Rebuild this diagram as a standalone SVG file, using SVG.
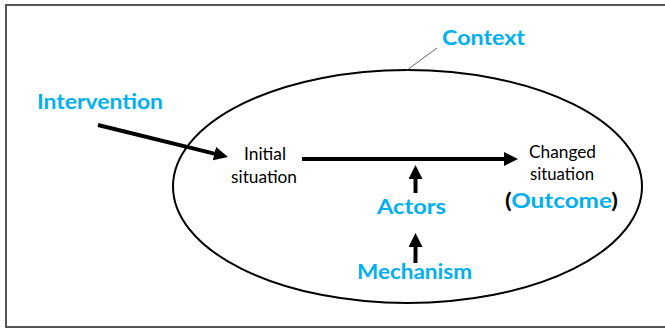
<svg xmlns="http://www.w3.org/2000/svg" width="665" height="329" viewBox="0 0 665 329">
<style>
.blue{fill:#00B0F0;font-family:Lato,"Open Sans",sans-serif;font-weight:bold;font-size:21px}
.blk{fill:#000;font-family:Lato,"Open Sans",sans-serif;font-size:17.5px}
.conn{stroke:#000;stroke-width:4;fill:none}
</style>
<defs>
<marker id="ah" markerUnits="userSpaceOnUse" markerWidth="16" markerHeight="14" refX="2" refY="7" orient="auto">
<path d="M0,0 L14,7 L0,14 z" fill="#000"/>
</marker>
</defs>
<rect x="0" y="0" width="665" height="329" fill="#fff"/>
<rect x="6" y="5" width="672" height="322" fill="none" stroke="#555" stroke-width="2"/>
<g id="context">
<ellipse cx="407.5" cy="186.5" rx="234.5" ry="116.5" fill="none" stroke="#000" stroke-width="2"/>
<line x1="407" y1="70" x2="437" y2="48" stroke="#666" stroke-width="1"/>
<text class="blue" x="442" y="45" textLength="83" lengthAdjust="spacingAndGlyphs">Context</text>
</g>
<g id="intervention">
<text class="blue" x="37" y="109" font-size="22" textLength="126" lengthAdjust="spacingAndGlyphs">Intervention</text>
</g>
<g id="initial">
<text class="blk" x="244" y="160" textLength="42" lengthAdjust="spacingAndGlyphs">Initial</text>
<text class="blk" x="231" y="183" textLength="66" lengthAdjust="spacingAndGlyphs">situation</text>
</g>
<g id="changed">
<text class="blk" x="529" y="158" textLength="67" lengthAdjust="spacingAndGlyphs">Changed</text>
<text class="blk" x="530" y="180" textLength="64" lengthAdjust="spacingAndGlyphs">situation</text>
<text class="blue" x="505" y="208" textLength="113" lengthAdjust="spacingAndGlyphs"><tspan fill="#000">(</tspan>Outcome<tspan fill="#000">)</tspan></text>
</g>
<g id="actors">
<text class="blue" x="377" y="214" textLength="69" lengthAdjust="spacingAndGlyphs">Actors</text>
</g>
<g id="mechanism">
<text class="blue" x="357" y="279" textLength="115" lengthAdjust="spacingAndGlyphs">Mechanism</text>
</g>
<g id="connectors">
<line class="conn" x1="98" y1="125" x2="216.3" y2="154.1" marker-end="url(#ah)"/>
<line class="conn" x1="302" y1="159" x2="506" y2="159" marker-end="url(#ah)"/>
<line class="conn" x1="415.5" y1="193" x2="415.5" y2="177" marker-end="url(#ah)"/>
<line class="conn" x1="415.5" y1="263" x2="415.5" y2="245" marker-end="url(#ah)"/>
</g>
</svg>
